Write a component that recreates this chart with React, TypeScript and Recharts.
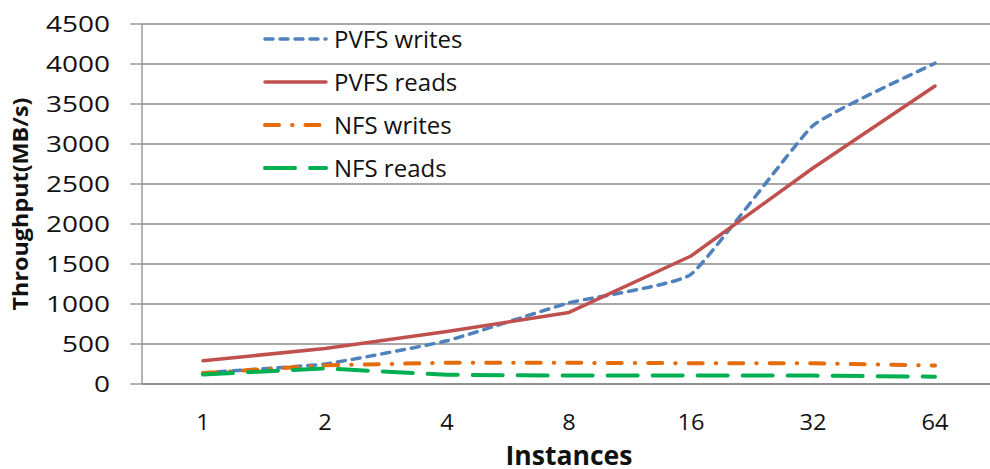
import { LineChart, Line, XAxis, YAxis, CartesianGrid } from "recharts";

// values
const instances = ["1", "2", "4", "8", "16", "32", "64"];
const pvfsWrites = [140, 250, 540, 1015, 1370, 3230, 4010];
const pvfsReads = [290, 445, 655, 895, 1600, 2700, 3725];
const nfsWrites = [135, 235, 265, 265, 260, 260, 230];
const nfsReads = [120, 195, 115, 105, 105, 105, 92];
const yTicks = [0, 500, 1000, 1500, 2000, 2500, 3000, 3500, 4000, 4500];

const data = instances.map((name, i) => ({
  name,
  pvfsWrites: pvfsWrites[i],
  pvfsReads: pvfsReads[i],
  nfsWrites: nfsWrites[i],
  nfsReads: nfsReads[i],
}));

const FONT = "'Open Sans', sans-serif";
const GRID = "#8a8a8a";
const INK = "#111";

// lightly smoothed line: cardinal spline with a high tension, so corners are only rounded
const softCurve = (context: any) => {
  const k = 0.06;
  let pts: number[][] = [];
  return {
    areaStart() {},
    areaEnd() {},
    lineStart() {
      pts = [];
    },
    point(x: number, y: number) {
      pts.push([+x, +y]);
    },
    lineEnd() {
      if (!pts.length) return;
      context.moveTo(pts[0][0], pts[0][1]);
      for (let i = 0; i < pts.length - 1; i++) {
        const p0 = pts[i - 1] || pts[i];
        const p1 = pts[i];
        const p2 = pts[i + 1];
        const p3 = pts[i + 2] || p2;
        context.bezierCurveTo(
          p1[0] + (p2[0] - p0[0]) * k,
          p1[1] + (p2[1] - p0[1]) * k,
          p2[0] - (p3[0] - p1[0]) * k,
          p2[1] - (p3[1] - p1[1]) * k,
          p2[0],
          p2[1]
        );
      }
    },
  };
};

const series = [
  { key: "pvfsWrites", name: "PVFS writes", color: "#4f81bd", dash: "8 7", width: 3.5, type: softCurve },
  { key: "pvfsReads", name: "PVFS reads", color: "#c0504d", dash: undefined, width: 3.5, type: "linear" },
  { key: "nfsWrites", name: "NFS writes", color: "#e46c0a", dash: "14 13 0.5 13", width: 4, type: "linear" },
  { key: "nfsReads", name: "NFS reads", color: "#00b050", dash: "30 15", width: 4, type: "linear" },
];

const YTick = (props: any) => {
  const { x, y, payload } = props;
  const s = String(payload.value);
  return (
    <text
      x={x}
      y={y}
      dy="0.36em"
      textAnchor="end"
      textLength={s.length * 16}
      lengthAdjust="spacingAndGlyphs"
      style={{ fontFamily: FONT, fontSize: 21, fill: INK }}
    >
      {s}
    </text>
  );
};

const XTick = (props: any) => {
  const { x, y, payload } = props;
  const s = String(payload.value);
  return (
    <text
      x={x}
      y={y}
      dy="0.71em"
      textAnchor="middle"
      textLength={s.length * 13.5}
      lengthAdjust="spacingAndGlyphs"
      style={{ fontFamily: FONT, fontSize: 22, fill: INK }}
    >
      {s}
    </text>
  );
};

const LegendBox = () => (
  <div style={{ position: "absolute", left: 261, top: 17, fontFamily: FONT, fontSize: 24, color: INK }}>
    {series.map((s) => (
      <div key={s.key} style={{ display: "flex", alignItems: "center", height: 43 }}>
        <svg width={70} height={10} style={{ marginRight: 3 }}>
          <line
            x1={4}
            y1={5}
            x2={65}
            y2={5}
            stroke={s.color}
            strokeWidth={s.width}
            strokeDasharray={s.dash}
            strokeLinecap="round"
          />
        </svg>
        <span>{s.name}</span>
      </div>
    ))}
  </div>
);

export default function App() {
  return (
    <div style={{ position: "absolute", left: 0, top: 0, width: 990, height: 469, overflow: "hidden", background: "#fff" }}>
      <LineChart width={1000} height={469} data={data} margin={{ top: 24, right: 4, bottom: 0, left: 0 }}>
        <CartesianGrid vertical={false} stroke={GRID} strokeWidth={1.3} />
        <XAxis
          dataKey="name"
          height={85}
          padding={{ left: 61, right: 61 }}
          tickLine={false}
          axisLine={{ stroke: GRID, strokeWidth: 1.3 }}
          tickMargin={24}
          tick={<XTick />}
          label={{
            content: () => (
              <text
                x={569}
                y={465}
                textAnchor="middle"
                textLength={127}
                lengthAdjust="spacingAndGlyphs"
                style={{ fontFamily: FONT, fontSize: 27, fontWeight: 700, fill: INK }}
              >
                Instances
              </text>
            ),
          }}
        />
        <YAxis
          width={142}
          domain={[0, 4500]}
          ticks={yTicks}
          interval={0}
          tickSize={12}
          tickMargin={20}
          tickLine={{ stroke: GRID, strokeWidth: 1.3 }}
          axisLine={{ stroke: GRID, strokeWidth: 1.3 }}
          tick={<YTick />}
          label={{
            content: () => (
              <text
                transform="translate(28,204) rotate(-90)"
                textAnchor="middle"
                textLength={213}
                lengthAdjust="spacingAndGlyphs"
                style={{ fontFamily: FONT, fontSize: 21, fontWeight: 700, fill: INK }}
              >
                Throughput(MB/s)
              </text>
            ),
          }}
        />
        {series.map((s) => (
          <Line
            key={s.key}
            type={s.type as any}
            dataKey={s.key}
            name={s.name}
            stroke={s.color}
            strokeWidth={s.width}
            strokeDasharray={s.dash}
            strokeLinecap="round"
            strokeLinejoin="round"
            dot={false}
            activeDot={false}
            isAnimationActive={false}
          />
        ))}
      </LineChart>
      <LegendBox />
    </div>
  );
}
